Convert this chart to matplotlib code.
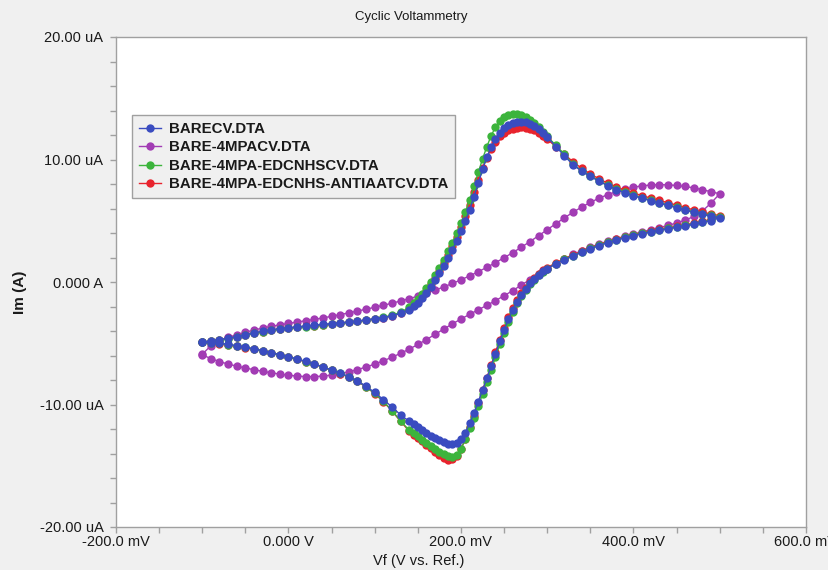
import matplotlib
matplotlib.use("Agg")
import matplotlib.pyplot as plt
from matplotlib.ticker import MultipleLocator

plt.rcParams['font.family'] = ['Liberation Sans', 'DejaVu Sans']

# --- sweep potentials (mV) ---------------------------------------------------
# forward scan -100 -> 500 mV, finer steps across the redox peaks
e_low = [-100, -90, -80, -70, -60, -50, -40, -30, -20, -10, 0, 10, 20, 30, 40,
         50, 60, 70, 80, 90, 100, 110, 120, 130, 140]
e_mid = [145, 150, 155, 160, 165, 170, 175, 180, 185, 190, 195, 200, 205, 210,
         215, 220, 225, 230, 235, 240, 245, 250, 255, 260, 265, 270, 275, 280,
         285, 290, 295, 300]
e_high = [310, 320, 330, 340, 350, 360, 370, 380, 390, 400, 410, 420, 430, 440,
          450, 460, 470, 480, 490, 500]
e_fwd = e_low + e_mid + e_high
e_rev = e_fwd[-2::-1]          # return scan 490 -> -100 mV

# 4MPA file was recorded on a plain 10 mV grid
e_mpa_fwd = [-100, -90, -80, -70, -60, -50, -40, -30, -20, -10, 0, 10, 20, 30,
             40, 50, 60, 70, 80, 90, 100, 110, 120, 130, 140, 150, 160, 170,
             180, 190, 200, 210, 220, 230, 240, 250, 260, 270, 280, 290, 300,
             310, 320, 330, 340, 350, 360, 370, 380, 390, 400, 410, 420, 430,
             440, 450, 460, 470, 480, 490, 500]
e_mpa_rev = e_mpa_fwd[-2::-1]

# --- currents (uA) -----------------------------------------------------------
# BARECV.DTA
i_bare_fwd = [-4.90, -4.80, -4.70, -4.58, -4.45, -4.30, -4.15, -4.02, -3.90, -3.80,
              -3.73, -3.66, -3.60, -3.53, -3.46, -3.40, -3.33, -3.26, -3.19, -3.10,
              -3.00, -2.90, -2.76, -2.56, -2.25,
              -1.98, -1.68, -1.32, -0.88, -0.40, 0.14, 0.70, 1.30, 1.95, 2.65,
              3.38, 4.15, 4.98, 5.90, 6.95, 8.05, 9.20, 10.20, 11.00, 11.65,
              12.15, 12.55, 12.82, 12.98, 13.07, 13.10, 13.05, 12.92, 12.72, 12.48,
              12.18, 11.85,
              11.05, 10.30, 9.55, 9.05, 8.62, 8.22, 7.87, 7.55, 7.28, 7.04,
              6.83, 6.63, 6.44, 6.25, 6.06, 5.87, 5.68, 5.52, 5.38, 5.25]
i_bare_rev = [5.02, 4.87, 4.72, 4.59, 4.47, 4.35, 4.22, 4.09, 3.95, 3.79,
              3.62, 3.42, 3.22, 2.97, 2.72, 2.42, 2.12, 1.82, 1.48,
              1.10, 0.86, 0.58, 0.25, -0.12, -0.55, -1.03, -1.60, -2.28, -3.05,
              -3.92, -4.85, -5.85, -6.85, -7.85, -8.82, -9.78, -10.70, -11.55, -12.30,
              -12.85, -13.15, -13.25, -13.20, -13.08, -12.92, -12.74, -12.55, -12.33, -12.10,
              -11.85, -11.60,
              -11.38, -10.85, -10.20, -9.60, -9.02, -8.52, -8.08, -7.73, -7.43, -7.18,
              -6.93, -6.68, -6.48, -6.28, -6.10, -5.93, -5.76, -5.60, -5.45, -5.32,
              -5.20, -5.09, -5.00, -4.94, -4.90]

# BARE-4MPACV.DTA
i_mpa_fwd = [-5.90, -5.20, -4.80, -4.52, -4.30, -4.10, -3.92, -3.76, -3.62, -3.50,
             -3.38, -3.27, -3.16, -3.05, -2.93, -2.80, -2.66, -2.52, -2.37, -2.22,
             -2.06, -1.90, -1.73, -1.55, -1.36, -1.15, -0.92, -0.67, -0.40, -0.12,
             0.18, 0.50, 0.84, 1.20, 1.58, 1.98, 2.40, 2.84, 3.30, 3.78,
             4.27, 4.76, 5.24, 5.70, 6.12, 6.50, 6.84, 7.13, 7.38, 7.58,
             7.74, 7.85, 7.92, 7.95, 7.93, 7.88, 7.80, 7.68, 7.53, 7.37, 7.20]
i_mpa_rev = [6.45, 5.80, 5.35, 5.05, 4.82, 4.62, 4.44, 4.27, 4.10, 3.92,
             3.74, 3.54, 3.33, 3.10, 2.85, 2.57, 2.25, 1.90, 1.50, 1.08,
             0.64, 0.20, -0.25, -0.70, -1.12, -1.52, -1.90, -2.27, -2.64, -3.02,
             -3.42, -3.84, -4.27, -4.70, -5.10, -5.48, -5.82, -6.14, -6.43, -6.70,
             -6.94, -7.15, -7.33, -7.48, -7.60, -7.68, -7.72, -7.72, -7.68, -7.61,
             -7.52, -7.41, -7.29, -7.16, -7.02, -6.87, -6.70, -6.50, -6.25, -5.95]

# BARE-4MPA-EDCNHSCV.DTA
i_edc_fwd = [-4.92, -4.84, -4.74, -4.62, -4.49, -4.35, -4.20, -4.07, -3.95, -3.85,
             -3.78, -3.71, -3.65, -3.58, -3.51, -3.44, -3.37, -3.29, -3.21, -3.11,
             -3.00, -2.88, -2.72, -2.47, -2.08,
             -1.75, -1.40, -0.98, -0.50, 0.02, 0.58, 1.18, 1.82, 2.50, 3.22,
             4.00, 4.82, 5.72, 6.72, 7.82, 8.95, 10.05, 11.05, 11.95, 12.65,
             13.12, 13.45, 13.62, 13.72, 13.74, 13.65, 13.48, 13.25, 12.95, 12.62,
             12.25, 11.88,
             11.15, 10.42, 9.60, 9.08, 8.68, 8.26, 7.90, 7.59, 7.32, 7.08,
             6.87, 6.67, 6.48, 6.29, 6.10, 5.91, 5.73, 5.57, 5.43, 5.30]
i_edc_rev = [5.05, 4.90, 4.75, 4.62, 4.50, 4.38, 4.25, 4.12, 3.98, 3.82,
             3.65, 3.45, 3.25, 3.00, 2.75, 2.45, 2.15, 1.85, 1.50,
             1.10, 0.85, 0.55, 0.20, -0.20, -0.65, -1.15, -1.75, -2.45, -3.25,
             -4.15, -5.10, -6.10, -7.15, -8.15, -9.15, -10.15, -11.10, -11.95, -12.85,
             -13.65, -14.10, -14.28, -14.22, -14.05, -13.85, -13.62, -13.38, -13.12, -12.86,
             -12.60, -12.35,
             -12.10, -11.35, -10.50, -9.75, -9.10, -8.55, -8.10, -7.75, -7.45, -7.20,
             -6.95, -6.70, -6.50, -6.30, -6.12, -5.95, -5.78, -5.62, -5.47, -5.34,
             -5.22, -5.11, -5.02, -4.95, -4.90]

# BARE-4MPA-EDCNHS-ANTIAATCV.DTA
i_aat_fwd = [-4.91, -4.82, -4.72, -4.60, -4.47, -4.33, -4.18, -4.05, -3.93, -3.83,
             -3.76, -3.69, -3.63, -3.56, -3.49, -3.42, -3.35, -3.28, -3.20, -3.11,
             -3.01, -2.90, -2.74, -2.52, -2.18,
             -1.88, -1.55, -1.15, -0.70, -0.20, 0.35, 0.93, 1.55, 2.22, 2.93,
             3.68, 4.48, 5.35, 6.30, 7.32, 8.35, 9.30, 10.15, 10.88, 11.45,
             11.88, 12.18, 12.40, 12.52, 12.60, 12.62, 12.60, 12.52, 12.38, 12.18,
             11.93, 11.65,
             11.05, 10.42, 9.80, 9.28, 8.82, 8.42, 8.07, 7.77, 7.50, 7.26,
             7.05, 6.85, 6.66, 6.47, 6.28, 6.08, 5.88, 5.70, 5.55, 5.42]
i_aat_rev = [5.12, 4.96, 4.81, 4.68, 4.55, 4.43, 4.30, 4.17, 4.03, 3.87,
             3.70, 3.50, 3.30, 3.05, 2.80, 2.50, 2.20, 1.90, 1.56,
             1.18, 0.94, 0.66, 0.33, -0.04, -0.46, -0.93, -1.48, -2.12, -2.88,
             -3.75, -4.70, -5.72, -6.78, -7.82, -8.85, -9.88, -10.90, -11.85, -12.80,
             -13.65, -14.22, -14.48, -14.50, -14.35, -14.12, -13.85, -13.58, -13.30, -13.00,
             -12.72, -12.45,
             -12.18, -11.38, -10.52, -9.77, -9.12, -8.57, -8.12, -7.77, -7.47, -7.22,
             -6.97, -6.72, -6.52, -6.32, -6.14, -5.97, -5.80, -5.64, -5.49, -5.36,
             -5.24, -5.13, -5.04, -4.96, -4.91]

labels = ['BARECV.DTA', 'BARE-4MPACV.DTA', 'BARE-4MPA-EDCNHSCV.DTA',
          'BARE-4MPA-EDCNHS-ANTIAATCV.DTA']
colors = ['#3a4cc0', '#a23cb4', '#3cb43c', '#e8232d']

x_ticks = [-200, 0, 200, 400, 600]
x_ticklabels = ['-200.0 mV', '0.000 V', '200.0 mV', '400.0 mV', '600.0 mV']
y_ticks = [-20, -10, 0, 10, 20]
y_ticklabels = ['-20.00 uA', '-10.00 uA', '0.000 A', '10.00 uA', '20.00 uA']

TXT = '#1a1a1a'
GRAY = '#a0a0a0'

fig = plt.figure(figsize=(8.29, 5.70), dpi=100, facecolor='#f0f0f0')
ax = fig.add_axes([116 / 829, 43 / 570, 690 / 829, 490 / 570])
ax.set_facecolor('white')

series = [
    (e_fwd + e_rev, i_bare_fwd + i_bare_rev, 5),
    (e_mpa_fwd + e_mpa_rev, i_mpa_fwd + i_mpa_rev, 2),
    (e_fwd + e_rev, i_edc_fwd + i_edc_rev, 4),
    (e_fwd + e_rev, i_aat_fwd + i_aat_rev, 3),
]
handles = []
for (x, y, z), lab, col in zip(series, labels, colors):
    h, = ax.plot(x, y, '-o', color=col, lw=1.0, ms=6, mew=0, zorder=z, label=lab)
    handles.append(h)

ax.set_xlim(-200, 600)
ax.set_ylim(-20, 20)
ax.set_xticks(x_ticks)
ax.set_xticklabels(x_ticklabels)
ax.set_yticks(y_ticks)
ax.set_yticklabels(y_ticklabels)
ax.xaxis.set_minor_locator(MultipleLocator(50))
ax.yaxis.set_minor_locator(MultipleLocator(2))
ax.tick_params(which='both', direction='out', length=4, width=1, color=GRAY,
               labelcolor=TXT, labelsize=10.5)
ax.tick_params(axis='y', pad=5)
ax.tick_params(axis='x', pad=2)
for s in ax.spines.values():
    s.set_color(GRAY)
    s.set_linewidth(1)

leg = ax.legend(handles=handles, loc='upper left',
                bbox_to_anchor=(16 / 690, 412 / 490), frameon=True, fancybox=False,
                edgecolor=GRAY, facecolor='#f0f0f0', framealpha=1,
                prop={'weight': 'bold', 'size': 10.8}, handlelength=1.5,
                handletextpad=0.5, labelspacing=0.3, borderpad=0.45,
                borderaxespad=0)
leg.get_frame().set_linewidth(1)
for t in leg.get_texts():
    t.set_color(TXT)

fig.text(411 / 829, 1 - 17 / 570, 'Cyclic Voltammetry', ha='center', va='center',
         fontsize=9.5, color=TXT)
fig.text(419 / 829, 1 - 561 / 570, 'Vf (V vs. Ref.)', ha='center', va='center',
         fontsize=10.5, color=TXT)
fig.text(20 / 829, 1 - 292 / 570, 'Im (A)', ha='center', va='center',
         rotation=90, fontsize=11, fontweight='bold', color=TXT)

fig.savefig('out.png', dpi=100, facecolor=fig.get_facecolor())
